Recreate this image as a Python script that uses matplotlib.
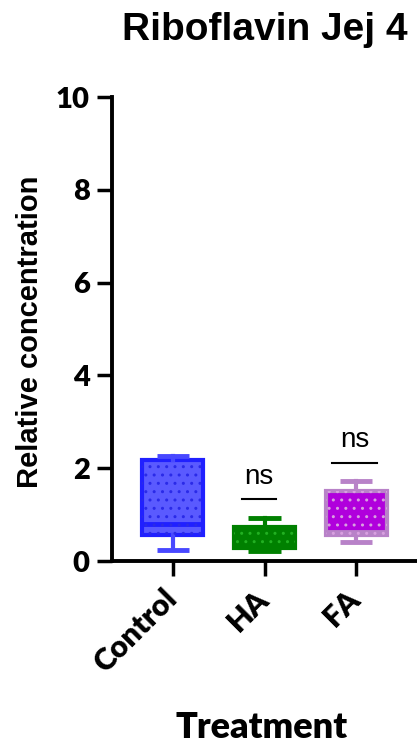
import matplotlib
matplotlib.use("Agg")
import matplotlib.pyplot as plt
from matplotlib.patches import PathPatch

# Box summary per treatment group
groups = ["Control", "HA", "FA"]
q1 = [0.55, 0.27, 0.55]
median = [0.80, 0.50, 0.62]
q3 = [2.17, 0.74, 1.50]
whisker_low = [0.24, 0.21, 0.41]
whisker_high = [2.27, 0.93, 1.73]

# Significance bars vs control
sig_groups = ["HA", "FA"]
sig_left = [0.75, 1.74]
sig_right = [1.13, 2.23]
sig_height = [1.34, 2.12]
sig_text = ["ns", "ns"]

yticks = [0, 2, 4, 6, 8, 10]

fill_colors = ["#5a5aff", "#008000", "#b000dc"]
edge_colors = ["#2020ff", "#008000", "#b882c8"]
whisker_colors = ["#4848ff", "#008000", "#b882c8"]
dot_colors = ["#2a2ae8", "#22b022", "#d8a0e0"]

fig = plt.figure(figsize=(4.17, 7.44), dpi=100)
ax = fig.add_axes([112 / 417, 1 - 561 / 744, 1 - 112 / 417, (561 - 97) / 744])

stats = []
for i, g in enumerate(groups):
    stats.append(dict(label=g, q1=q1[i], med=median[i], q3=q3[i],
                      whislo=whisker_low[i], whishi=whisker_high[i]))

pos = list(range(len(groups)))
bp = ax.bxp(stats, positions=pos, widths=0.66, capwidths=0.35,
            patch_artist=True, showfliers=False)

for i, box in enumerate(bp["boxes"]):
    box.set_facecolor(fill_colors[i])
    box.set_edgecolor(edge_colors[i])
    box.set_linewidth(3)
    # dotted fill pattern on top of the box
    dots = PathPatch(box.get_path(), facecolor="none", edgecolor=dot_colors[i],
                     lw=0, hatch="..", zorder=box.get_zorder() + 0.1)
    ax.add_patch(dots)
    bp["medians"][i].set(color=edge_colors[i], linewidth=3.5, solid_capstyle="butt")
    for w in bp["whiskers"][2 * i:2 * i + 2]:
        w.set(color=whisker_colors[i], linewidth=3)
    for c in bp["caps"][2 * i:2 * i + 2]:
        c.set(color=whisker_colors[i], linewidth=3.5, solid_capstyle="butt")

for k in range(len(sig_groups)):
    ax.plot([sig_left[k], sig_right[k]], [sig_height[k], sig_height[k]],
            color="black", lw=1.5)
    ax.text((sig_left[k] + sig_right[k]) / 2, sig_height[k] + 0.33, sig_text[k],
            ha="center", va="baseline", fontsize=20, family="Liberation Sans")

ax.set_xlim(-0.66, 2.66)
ax.set_ylim(0, 10)
ax.set_yticks(yticks)
ax.set_xticks(pos)
ax.set_xticklabels(groups)

for s in ["top", "right"]:
    ax.spines[s].set_visible(False)
ax.spines["left"].set_linewidth(2.8)
ax.spines["bottom"].set_linewidth(2.8)
ax.tick_params(axis="both", length=11, width=2.5, color="black")
ax.tick_params(axis="y", pad=5)
ax.tick_params(axis="x", pad=13)

for lab in ax.get_yticklabels():
    lab.set_fontfamily("Lato")
    lab.set_fontweight("heavy")
    lab.set_fontsize(21)
for lab in ax.get_xticklabels():
    lab.set_fontfamily("Lato")
    lab.set_fontweight("heavy")
    lab.set_fontsize(22)
    lab.set_rotation(45)
    lab.set_ha("right")
    lab.set_va("center")
    lab.set_rotation_mode("anchor")

fig.text(265 / 417, 1 - 40 / 744, "Riboflavin Jej 4", ha="center", va="baseline",
         fontsize=28, fontweight="bold", family="Liberation Sans")
fig.text(30 / 417, 1 - 332 / 744, "Relative concentration", rotation=90,
         ha="center", va="center", fontsize=21, fontweight="bold",
         family="Liberation Sans")
fig.text(262 / 417, 1 - 727 / 744, "Treatment", ha="center", va="center",
         fontsize=26, fontweight="heavy", family="Lato")

fig.savefig("out.png", dpi=100)
